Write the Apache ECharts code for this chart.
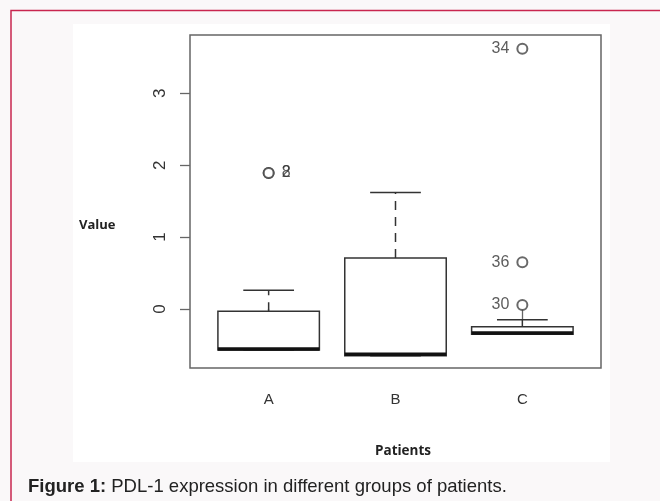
<!DOCTYPE html>
<html>
<head>
<meta charset="utf-8">
<script src="https://cdn.jsdelivr.net/npm/echarts@6/dist/echarts.min.js"></script>
<style>
html, body { margin: 0; padding: 0; background: #faf8f9; }
#chart { width: 660px; height: 501px; }
</style>
</head>
<body>
<div id="chart"></div>
<script>
// group names and box statistics
const groups = ['A', 'B', 'C'];
const lowWhisker = [-0.57, -0.65, -0.35];
const q1 = [-0.57, -0.65, -0.35];
const median = [-0.555, -0.63, -0.335];
const q3 = [-0.03, 0.71, -0.245];
const highWhisker = [0.26, 1.62, -0.15];

// outliers: group number, value, point id
const outlierGroup = [1, 1, 3, 3, 3];
const outlierValue = [1.89, 1.89, 3.62, 0.65, 0.055];
const outlierLabel = ['2', '8', '34', '36', '30'];

const yTicks = [0, 1, 2, 3];
const xTicks = [1, 2, 3];

const boxData = groups.map(function (g, i) {
  return [i + 1, lowWhisker[i], q1[i], median[i], q3[i], highWhisker[i]];
});

const outlierData = outlierValue.map(function (v, i) {
  return {
    value: [outlierGroup[i], v],
    name: outlierLabel[i],
    label: { position: outlierGroup[i] === 1 ? 'right' : 'left' }
  };
});

const lineCol = '#333';

function renderBox(params, api) {
  const x = api.value(0);
  const lo = api.value(1), a = api.value(2), m = api.value(3), b = api.value(4), hi = api.value(5);
  const pTop = api.coord([x - 0.4, b]);
  const pBot = api.coord([x + 0.4, a]);
  const pMedL = api.coord([x - 0.4, m]);
  const pMedR = api.coord([x + 0.4, m]);
  const c = api.coord([x, hi]);
  const cLo = api.coord([x, lo]);
  const capL = api.coord([x - 0.2, hi]);
  const capR = api.coord([x + 0.2, hi]);
  const capLoL = api.coord([x - 0.2, lo]);
  const capLoR = api.coord([x + 0.2, lo]);
  return {
    type: 'group',
    children: [
      { type: 'line', shape: { x1: c[0], y1: pTop[1], x2: c[0], y2: c[1] },
        style: { stroke: lineCol, lineWidth: 1.5, lineDash: [9, 7] } },
      { type: 'line', shape: { x1: capL[0], y1: capL[1], x2: capR[0], y2: capR[1] },
        style: { stroke: lineCol, lineWidth: 1.5 } },
      { type: 'line', shape: { x1: c[0], y1: pBot[1], x2: c[0], y2: cLo[1] },
        style: { stroke: lineCol, lineWidth: 1.5, lineDash: [9, 7] } },
      { type: 'line', shape: { x1: capLoL[0], y1: capLoL[1], x2: capLoR[0], y2: capLoR[1] },
        style: { stroke: lineCol, lineWidth: 1.5 } },
      { type: 'rect', shape: { x: pTop[0], y: pTop[1], width: pBot[0] - pTop[0], height: pBot[1] - pTop[1] },
        style: { fill: '#fff', stroke: lineCol, lineWidth: 1.5 } },
      { type: 'line', shape: { x1: pMedL[0], y1: pMedL[1], x2: pMedR[0], y2: pMedR[1] },
        style: { stroke: '#111', lineWidth: 3.5 } }
    ]
  };
}

const chart = echarts.init(document.getElementById('chart'));
chart.setOption({
  animation: false,
  backgroundColor: '#faf8f9',
  graphic: [
    { type: 'rect', silent: true, z: -10,
      shape: { x: 73, y: 24, width: 537, height: 438 }, style: { fill: '#fff' } },
    { type: 'polyline', silent: true, z: -5,
      shape: { points: [[11, 510], [11, 10.5], [670, 10.5]] },
      style: { stroke: '#c8264f', lineWidth: 1.5, fill: null } },
    { type: 'text', left: 79, top: 219,
      style: { text: 'Value', font: 'bold 13px "Open Sans"', fill: '#222' } },
    { type: 'text', left: 375, top: 444,
      style: { text: 'Patients', font: 'bold 13.5px "Open Sans"', fill: '#222' } },
    { type: 'text', left: 28, top: 477,
      style: {
        text: '{b|Figure 1:} PDL-1 expression in different groups of patients.',
        font: '18.5px "Liberation Sans"', fill: '#222',
        rich: { b: { font: 'bold 18.5px "Liberation Sans"', fill: '#222' } }
      } }
  ],
  grid: {
    left: 190, top: 35, right: 59, bottom: 133,
    show: true, borderColor: '#666', borderWidth: 1.5, backgroundColor: 'transparent'
  },
  xAxis: {
    type: 'value', min: 0.38, max: 3.62,
    axisLine: { show: false },
    splitLine: { show: false },
    axisTick: { show: true, length: 10, lineStyle: { color: '#666', width: 1.3 }, customValues: xTicks },
    axisLabel: {
      customValues: xTicks, margin: 24, color: '#333', fontSize: 15, fontFamily: 'Liberation Sans',
      formatter: function (v) { return groups[Math.round(v) - 1]; }
    }
  },
  yAxis: {
    type: 'value', min: -0.82, max: 3.81,
    axisLine: { show: false },
    splitLine: { show: false },
    axisTick: { show: true, length: 10, lineStyle: { color: '#666', width: 1.3 }, customValues: yTicks },
    axisLabel: {
      customValues: yTicks, margin: 21, rotate: 90, color: '#333', fontSize: 17, fontFamily: 'Liberation Sans'
    }
  },
  series: [
    {
      type: 'custom',
      renderItem: renderBox,
      encode: { x: 0, y: [1, 2, 3, 4, 5] },
      data: boxData
    },
    {
      type: 'scatter',
      symbol: 'emptyCircle',
      symbolSize: 10,
      itemStyle: { color: '#444', borderColor: '#444', borderWidth: 1.3 },
      label: {
        show: true, formatter: '{b}', distance: 7,
        color: '#333', fontSize: 16, fontFamily: 'Liberation Sans'
      },
      data: outlierData,
      z: 5
    }
  ]
});
</script>
</body>
</html>
